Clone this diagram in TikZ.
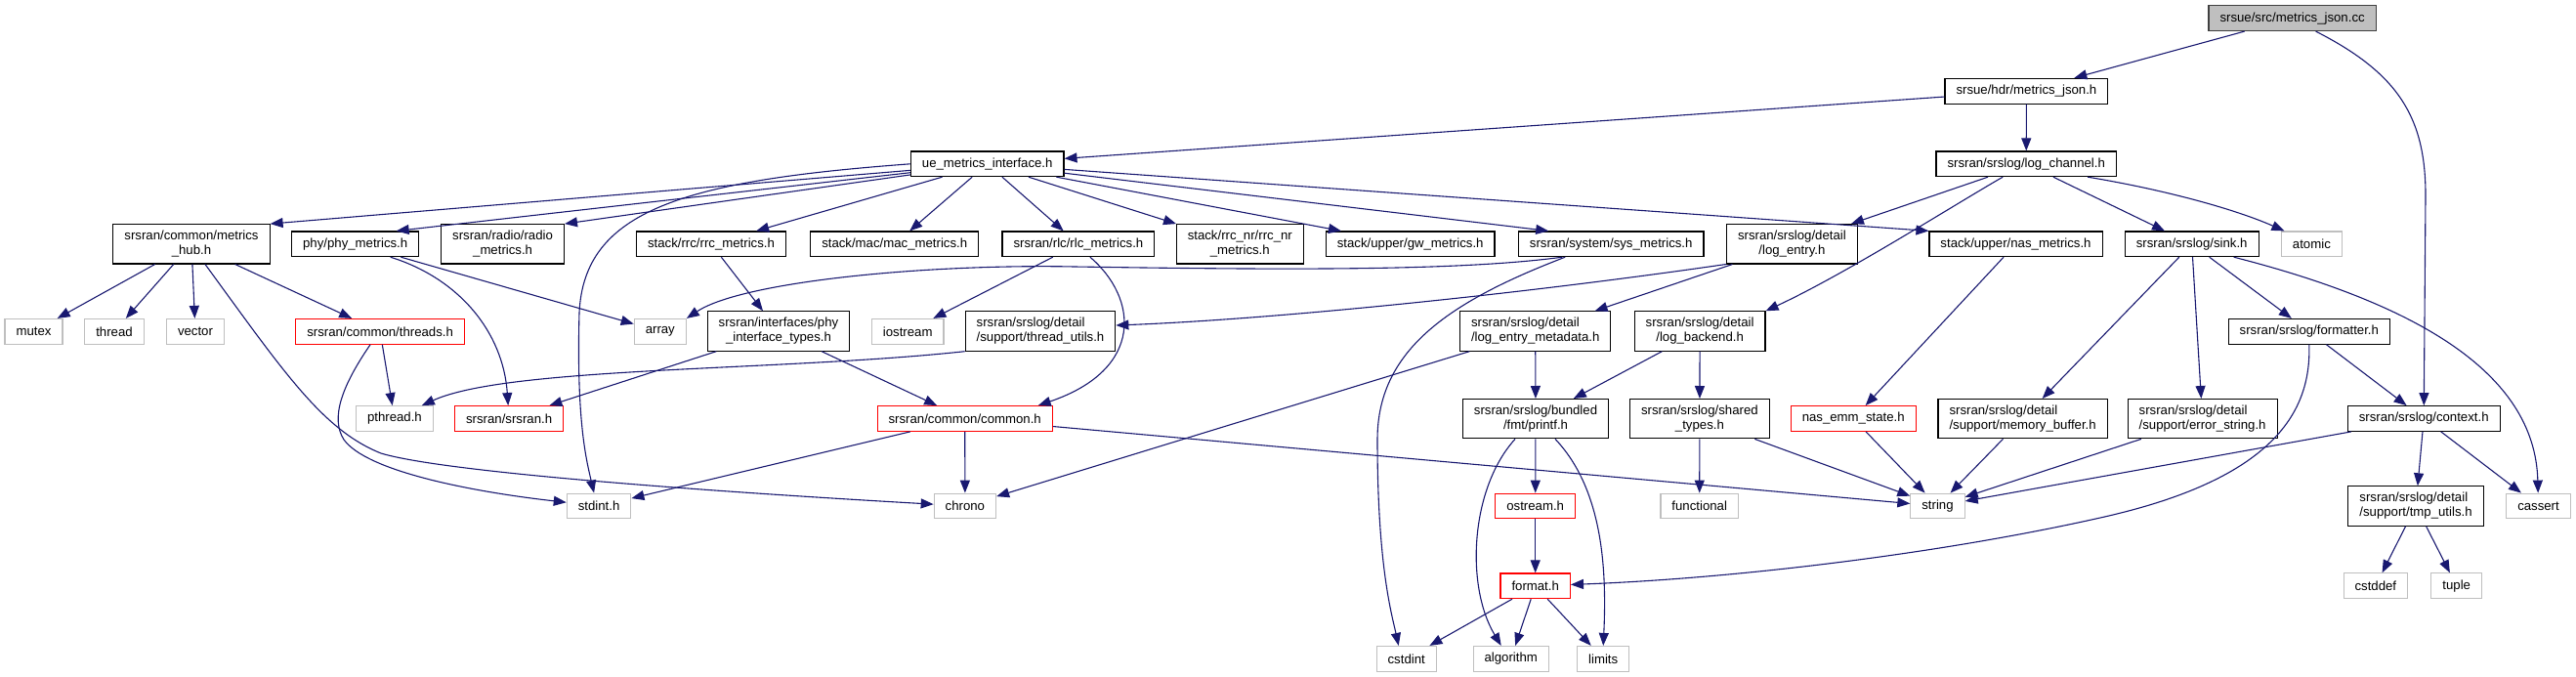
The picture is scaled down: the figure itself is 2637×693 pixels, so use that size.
\documentclass[tikz,border=0pt]{standalone}
\usepackage{fontspec}
\setmainfont{Liberation Sans}
\usetikzlibrary{arrows.meta}
\definecolor{edgeblue}{HTML}{191970}
\definecolor{sysgray}{HTML}{BFBFBF}
\definecolor{truncred}{HTML}{FF0000}
\definecolor{rootgray}{HTML}{BFBFBF}
\definecolor{rootline}{HTML}{404040}

\begin{document}
\begin{tikzpicture}[
    x=1pt,y=-1pt,
    >={Triangle[length=13pt,width=10pt]},
    hdr/.style={draw=black,fill=white,line width=1.1pt,inner xsep=11.5pt,inner ysep=2pt,
                minimum height=25.7pt,align=center,font=\fontsize{13.2}{15}\selectfont},
    tall/.style={minimum height=40.3pt},
    lefty/.style={align=left},
    syshdr/.style={hdr,draw=sysgray},
    trunc/.style={hdr,draw=truncred},
    root/.style={hdr,draw=rootline,fill=rootgray},
    inc/.style={->,draw=edgeblue,line width=1.1pt}
  ]
  \useasboundingbox (0,0) rectangle (2637,693);

  % top of the graph
  \node[root] (mjcc) at (2346.6,18.7) {srsue/src/metrics\_json.cc};
  \node[hdr] (mjh) at (2074.4,93.2) {srsue/hdr/metrics\_json.h};
  \node[hdr] (ue) at (1010.7,167.8) {ue\_metrics\_interface.h};
  \node[hdr] (logch) at (2074.2,167.8) {srsran/srslog/log\_channel.h};

  % second level
  \node[hdr,tall] (hub) at (196,249.8) {srsran/common/metrics\\\_hub.h};
  \node[hdr] (phy) at (363.7,249.8) {phy/phy\_metrics.h};
  \node[hdr,tall] (radio) at (514.6,249.8) {srsran/radio/radio\\\_metrics.h};
  \node[hdr] (rrc) at (728,249.8) {stack/rrc/rrc\_metrics.h};
  \node[hdr] (mac) at (915.7,249.8) {stack/mac/mac\_metrics.h};
  \node[hdr] (rlc) at (1103.9,249.8) {srsran/rlc/rlc\_metrics.h};
  \node[hdr,tall] (rrcnr) at (1269.3,249.8) {stack/rrc\_nr/rrc\_nr\\\_metrics.h};
  \node[hdr] (gw) at (1443.7,249.8) {stack/upper/gw\_metrics.h};
  \node[hdr] (sysm) at (1649.2,249.8) {srsran/system/sys\_metrics.h};
  \node[hdr,tall] (logent) at (1834.4,249.8) {srsran/srslog/detail\\/log\_entry.h};
  \node[hdr] (nas) at (2063.5,249.8) {stack/upper/nas\_metrics.h};
  \node[hdr] (sink) at (2243.7,249.8) {srsran/srslog/sink.h};
  \node[syshdr] (atomic) at (2366.4,249.8) {atomic};

  % third level
  \node[syshdr] (mutex) at (34.5,339.3) {mutex};
  \node[syshdr] (thread) at (117,339.3) {thread};
  \node[syshdr] (vector) at (200,339.3) {vector};
  \node[trunc] (threads) at (389.1,339.3) {srsran/common/threads.h};
  \node[syshdr] (array) at (675.8,339.3) {array};
  \node[hdr,tall] (phyif) at (797,339) {srsran/interfaces/phy\\\_interface\_types.h};
  \node[syshdr] (iostream) at (929.2,339.3) {iostream};
  \node[hdr,tall,lefty] (thrutil) at (1065,339) {srsran/srslog/detail\\/support/thread\_utils.h};
  \node[hdr,tall,lefty] (logmeta) at (1571.7,339) {srsran/srslog/detail\\/log\_entry\_metadata.h};
  \node[hdr,tall] (logback) at (1740.1,339) {srsran/srslog/detail\\/log\_backend.h};
  \node[hdr] (fmtter) at (2363.8,339.3) {srsran/srslog/formatter.h};

  % fourth level
  \node[syshdr] (pthread) at (403.9,428.5) {pthread.h};
  \node[trunc] (srsran) at (521.1,428.5) {srsran/srsran.h};
  \node[trunc] (common) at (987.7,428.5) {srsran/common/common.h};
  \node[hdr,tall] (printf) at (1572,428.7) {srsran/srslog/bundled\\/fmt/printf.h};
  \node[hdr,tall] (shtypes) at (1739.9,428.7) {srsran/srslog/shared\\\_types.h};
  \node[trunc] (nasemm) at (1897.2,428.5) {nas\_emm\_state.h};
  \node[hdr,tall,lefty] (membuf) at (2070.6,428.7) {srsran/srslog/detail\\/support/memory\_buffer.h};
  \node[hdr,tall,lefty] (errstr) at (2254.6,428.7) {srsran/srslog/detail\\/support/error\_string.h};
  \node[hdr] (context) at (2481.2,428.5) {srsran/srslog/context.h};

  % lower levels
  \node[syshdr] (stdint) at (613.1,518) {stdint.h};
  \node[syshdr] (chrono) at (987.9,518) {chrono};
  \node[trunc] (ostream) at (1571.7,518) {ostream.h};
  \node[syshdr] (functional) at (1739.7,518) {functional};
  \node[syshdr] (string) at (1983.5,518) {string};
  \node[hdr,tall,lefty] (tmputil) at (2473,518) {srsran/srslog/detail\\/support/tmp\_utils.h};
  \node[syshdr] (cassert) at (2598.5,518) {cassert};
  \node[trunc] (format) at (1571.7,599.8) {format.h};
  \node[syshdr] (cstddef) at (2431.8,599.7) {cstddef};
  \node[syshdr] (tuple) at (2514.7,599.7) {tuple};
  \node[syshdr] (cstdint) at (1439.7,674.3) {cstdint};
  \node[syshdr] (algorithm) at (1546.7,674.3) {algorithm};
  \node[syshdr] (limits) at (1641.2,674.3) {limits};

  % includes
  \draw[inc] (mjcc) -- (mjh);
  \draw[inc] ([xshift=24pt]mjcc.south) .. controls (2455,75) and (2483,120) .. (2483,200) -- (context);
  \draw[inc] (mjh) -- (ue);
  \draw[inc] (mjh) -- (logch);

  \draw[inc] (ue) -- (hub.north east);
  \draw[inc] (ue) -- ([xshift=42pt]phy.north);
  \draw[inc] (ue) -- (radio.north east);
  \draw[inc] (ue) -- (rrc);
  \draw[inc] (ue) -- (mac);
  \draw[inc] (ue) -- (rlc);
  \draw[inc] (ue) -- (rrcnr);
  \draw[inc] (ue) -- (gw);
  \draw[inc] (ue) -- ([xshift=-64pt]sysm.north);
  \draw[inc] (ue) -- (nas.north west);
  \draw[inc] (ue.west) .. controls (700,185) and (598,215) .. (593,320) .. controls (590,430) and (600,470) .. ([xshift=-5pt]stdint.north);

  \draw[inc] (hub) -- (mutex);
  \draw[inc] (hub) -- (thread);
  \draw[inc] (hub) -- (vector);
  \draw[inc] (hub) -- (threads);
  \draw[inc] ([xshift=14pt]hub.south) .. controls (290,380) and (330,440) .. (390,464) .. controls (460,485) and (760,505) .. (chrono);

  \draw[inc] (phy) -- (array);
  \draw[inc] ([xshift=36pt]phy.south) .. controls (470,285) and (515,340) .. (srsran);

  \draw[inc] (threads) -- (pthread);
  \draw[inc] ([xshift=-10pt]threads.south) .. controls (350,395) and (338,428) .. (352,450) .. controls (375,482) and (480,503) .. (stdint);

  \draw[inc] (rrc) -- (phyif);
  \draw[inc] (phyif) -- (srsran);
  \draw[inc] (phyif) -- (common);

  \draw[inc] (rlc) -- (iostream);
  \draw[inc] ([xshift=12pt]rlc.south) .. controls (1165,305) and (1172,378) .. ([xshift=75pt]common.north);

  \draw[inc] ([xshift=-50pt]sysm.south) .. controls (1490,278) and (1300,276) .. (1100,273) .. controls (950,270) and (760,288) .. (array.north east);
  \draw[inc] ([xshift=-47pt]sysm.south) .. controls (1480,310) and (1410,360) .. (1410,450) .. controls (1410,580) and (1425,630) .. ([xshift=-8pt]cstdint.north);

  \draw[inc] (logent) -- (logmeta);
  \draw[inc] (logent.south west) .. controls (1550,302) and (1300,327) .. ([yshift=6pt]thrutil.east);
  \draw[inc] (logmeta) -- (printf);
  \draw[inc] (logmeta) -- (chrono);
  \draw[inc] (logback) -- (printf);
  \draw[inc] (logback) -- (shtypes);

  \draw[inc] (logch) -- (logent);
  \draw[inc] ([xshift=-24pt]logch.south) .. controls (2000,210) and (1890,280) .. (logback.north east);
  \draw[inc] (logch) -- (sink);
  \draw[inc] ([xshift=63pt]logch.south) .. controls (2220,195) and (2290,215) .. ([xshift=-28pt]atomic.north);

  \draw[inc] (nas) -- (nasemm);
  \draw[inc] (nasemm) -- (string);

  \draw[inc] (sink) -- (membuf);
  \draw[inc] (sink) -- (errstr);
  \draw[inc] (sink) -- (fmtter);
  \draw[inc] ([xshift=43pt]sink.south) .. controls (2470,310) and (2595,380) .. (cassert);

  \draw[inc] (fmtter) -- (context);
  \draw[inc] (fmtter.south) .. controls (2366,420) and (2330,490) .. (2150,530) .. controls (1990,566) and (1780,592) .. (format);

  \draw[inc] (context) -- (string);
  \draw[inc] (context) -- (tmputil);
  \draw[inc] (context) -- (cassert);
  \draw[inc] (tmputil) -- (cstddef);
  \draw[inc] (tmputil) -- (tuple);

  \draw[inc] (membuf) -- (string);
  \draw[inc] (errstr) -- (string);
  \draw[inc] (shtypes) -- (string);
  \draw[inc] (shtypes) -- (functional);

  \draw[inc] (common) -- (string);
  \draw[inc] (common) -- (stdint);
  \draw[inc] (common) -- (chrono);

  \draw[inc] (thrutil.south west) .. controls (800,380) and (520,375) .. ([xshift=-12pt]pthread.north east);

  \draw[inc] (printf) -- (ostream);
  \draw[inc] ([xshift=-21pt]printf.south) .. controls (1505,500) and (1500,600) .. ([xshift=-10pt]algorithm.north);
  \draw[inc] ([xshift=20pt]printf.south) .. controls (1640,500) and (1645,580) .. (limits.north);
  \draw[inc] (ostream) -- (format);
  \draw[inc] (format) -- (cstdint);
  \draw[inc] (format) -- (algorithm);
  \draw[inc] (format) -- (limits);
\end{tikzpicture}
\end{document}
